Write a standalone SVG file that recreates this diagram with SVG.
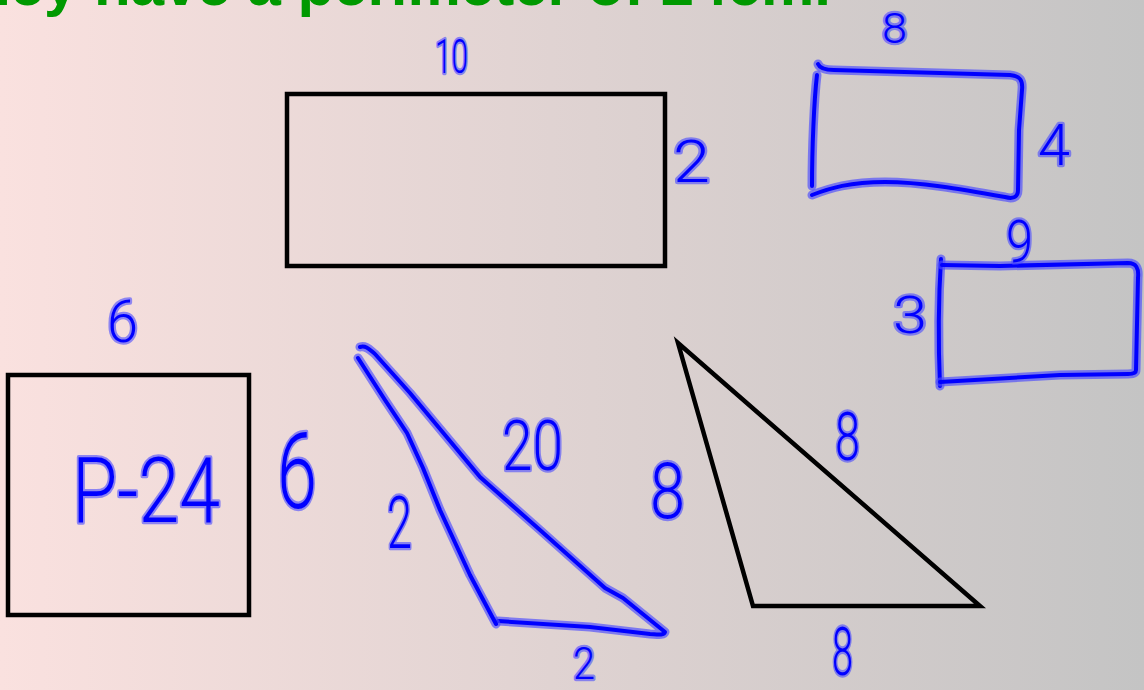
<svg xmlns="http://www.w3.org/2000/svg" xmlns:xlink="http://www.w3.org/1999/xlink" width="1144" height="690" viewBox="0 0 1144 690">
  <defs>
    <linearGradient id="bg" x1="0" y1="0" x2="1" y2="0">
      <stop offset="0" stop-color="#fae1df"/>
      <stop offset="1" stop-color="#c4c4c4"/>
    </linearGradient>
    <style>
      .title { font-family: "Liberation Sans", Arial, sans-serif; font-weight: bold; font-size: 60px; fill: #009900; }
      .black { fill: none; stroke: #000; stroke-width: 4.5; stroke-linejoin: miter; }
      .halo { fill: none; stroke: #4a4aff; stroke-opacity: 0.65; stroke-width: 9; stroke-linecap: round; stroke-linejoin: round; }
      .ink { fill: none; stroke: #0000ff; stroke-width: 4; stroke-linecap: round; stroke-linejoin: round; }
      .hand { font-family: Roboto, Lato, "DejaVu Sans", sans-serif; font-weight: 300; fill: #0000ff; stroke: #4a4aff; stroke-opacity: 0.6; stroke-width: 4.5; stroke-linejoin: round; paint-order: stroke; }
    </style>
    <path id="br1a" d="M818,64 C820,69 826,70 834,70 L1010,75 C1020,76 1023,80 1022,90 L1019,130 L1018,190 C1018,198 1012,199 1005,197 C960,189 920,182 885,182 C850,182 830,188 812,195"/>
    <path id="br1b" d="M817,75 C814,100 812,150 812,186"/>
    <path id="br2a" d="M941,259 C939,290 938,340 940,386"/>
    <path id="br2b" d="M942,265 L1000,266 L1128,263 C1136,263 1139,268 1138,278 L1136,370 C1136,373 1133,374 1128,374 L1060,375 L940,382"/>
    <path id="btA" d="M360,347 C366,345 370,350 375,354 L410,393 L445,435 L480,477 L540,530 L605,588 L623,598 L665,632 C664,636 655,634 650,634 L590,627 L498,621"/>
    <path id="btB" d="M358,358 L385,400 L407,433 L423,468 L440,510 L470,575 L496,624"/>
  </defs>

  <rect x="0" y="0" width="1144" height="690" fill="url(#bg)"/>

  <g id="title">
    <text class="title" x="831" y="5" text-anchor="end">They have a perimeter of 24cm.</text>
  </g>

  <g id="rect-10x2">
    <rect class="black" x="287" y="94" width="378" height="172"/>
    <text class="hand" x="435" y="73" font-size="48" textLength="33" lengthAdjust="spacingAndGlyphs">10</text>
    <text class="hand" x="673" y="182" font-size="60" textLength="37" lengthAdjust="spacingAndGlyphs">2</text>
  </g>

  <g id="rect-8x4">
    <use xlink:href="#br1a" class="halo"/><use xlink:href="#br1a" class="ink"/>
    <use xlink:href="#br1b" class="halo"/><use xlink:href="#br1b" class="ink"/>
    <text class="hand" x="882" y="43" font-size="42" textLength="25" lengthAdjust="spacingAndGlyphs">8</text>
    <text class="hand" x="1038" y="165" font-size="57" textLength="32" lengthAdjust="spacingAndGlyphs">4</text>
  </g>

  <g id="rect-9x3">
    <use xlink:href="#br2a" class="halo"/><use xlink:href="#br2a" class="ink"/>
    <use xlink:href="#br2b" class="halo"/><use xlink:href="#br2b" class="ink"/>
    <text class="hand" x="1006" y="262" font-size="60" textLength="27" lengthAdjust="spacingAndGlyphs">9</text>
    <text class="hand" x="893" y="333" font-size="52" textLength="34" lengthAdjust="spacingAndGlyphs">3</text>
  </g>

  <g id="square-6">
    <rect class="black" x="8" y="375" width="241" height="240"/>
    <text class="hand" x="107" y="342" font-size="60" textLength="31" lengthAdjust="spacingAndGlyphs">6</text>
    <text class="hand" x="277" y="508" font-size="105" textLength="40" lengthAdjust="spacingAndGlyphs">6</text>
    <text class="hand" x="72" y="522" font-size="90" textLength="148" lengthAdjust="spacingAndGlyphs">P-24</text>
  </g>

  <g id="triangle-blue">
    <use xlink:href="#btA" class="halo"/><use xlink:href="#btA" class="ink"/>
    <use xlink:href="#btB" class="halo"/><use xlink:href="#btB" class="ink"/>
    <text class="hand" x="502" y="470" font-size="70" textLength="61" lengthAdjust="spacingAndGlyphs">20</text>
    <text class="hand" x="387" y="548" font-size="72" textLength="25" lengthAdjust="spacingAndGlyphs">2</text>
    <text class="hand" x="573" y="679" font-size="44" textLength="22" lengthAdjust="spacingAndGlyphs">2</text>
  </g>

  <g id="triangle-black">
    <polygon class="black" points="678,343 753,606 980,606"/>
    <text class="hand" x="650" y="518" font-size="78" textLength="35" lengthAdjust="spacingAndGlyphs">8</text>
    <text class="hand" x="835" y="460" font-size="66" textLength="25" lengthAdjust="spacingAndGlyphs">8</text>
    <text class="hand" x="832" y="675" font-size="66" textLength="21" lengthAdjust="spacingAndGlyphs">8</text>
  </g>
</svg>
